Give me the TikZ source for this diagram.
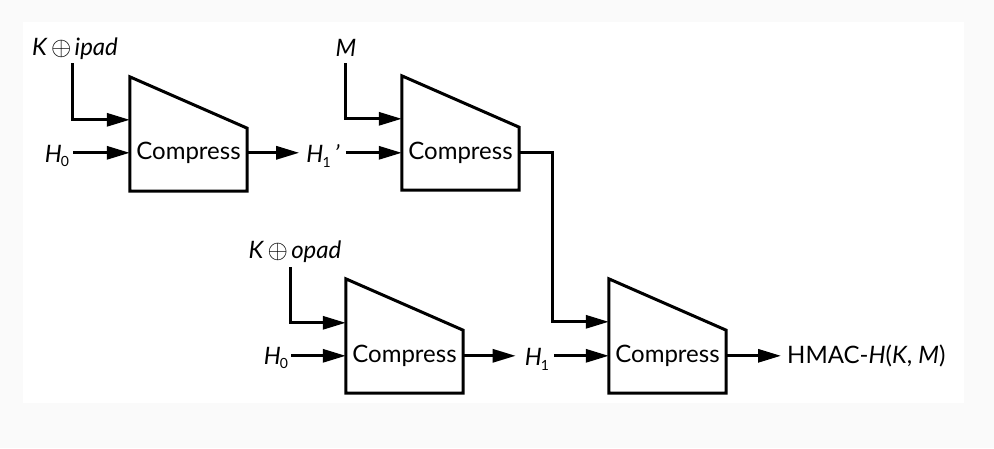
\documentclass[tikz,border=0pt]{standalone}
\usepackage{fontspec}
\setmainfont{Lato}
\usetikzlibrary{arrows.meta,calc}
\definecolor{bg}{HTML}{FAFAFA}
\newcommand{\Hs}[1]{\textit{H}\kern-0.04em\raisebox{-0.4ex}{\fontsize{14}{14}\selectfont #1}}
\newcommand{\xo}{\kern0.14em\raisebox{0.02ex}{\scalebox{1.05}{$\oplus$}}\kern0.14em}
\begin{document}
\begin{tikzpicture}[x=1pt,y=-1pt,
  cbox/.style={draw=none,minimum width=117pt,minimum height=114pt,inner sep=0pt},
  trap/.style={line width=3pt,line join=miter},
  ctext/.style={inner sep=0pt,font=\fontsize{24}{24}\selectfont},
  lbl/.style={inner sep=0pt,font=\fontsize{24}{24}\selectfont},
  arr/.style={line width=3pt,-{Triangle[length=23pt,width=13pt]}},
  wire/.style={line width=3pt}]
\fill[bg] (0,0) rectangle (994,448);
\fill[white] (23,22) rectangle (964,403);
% boxes
\node[cbox] (c1) at (188.5,134) {};
\node[cbox] (c2) at (460.5,133) {};
\node[cbox] (c3) at (404.5,336) {};
\node[cbox] (c4) at (667.5,336) {};
\foreach \c in {c1,c2,c3,c4}{
  \draw[trap] (\c.south west) -- (\c.north west) -- ([yshift=63pt]\c.south east) -- (\c.south east) -- cycle;
}
\node[ctext] (t1) at (188.5,153) {Compress};
\node[ctext] (t2) at (460.5,153) {Compress};
\node[ctext] (t3) at (404.5,356) {Compress};
\node[ctext] (t4) at (667.5,356) {Compress};
% input points
\coordinate (c1a) at ($(c1.north west)+(0,43)$);
\coordinate (c1b) at ($(c1.north west)+(0,76)$);
\coordinate (c2a) at ($(c2.north west)+(0,43)$);
\coordinate (c2b) at ($(c2.north west)+(0,77)$);
\coordinate (c3a) at ($(c3.north west)+(0,44)$);
\coordinate (c3b) at ($(c3.north west)+(0,77)$);
\coordinate (c4a) at ($(c4.north west)+(0,43)$);
\coordinate (c4b) at ($(c4.north west)+(0,77)$);
\coordinate (c1o) at ($(c1.north east)+(0,76)$);
\coordinate (c2o) at ($(c2.north east)+(0,77)$);
\coordinate (c3o) at ($(c3.north east)+(0,77)$);
\coordinate (c4o) at ($(c4.north east)+(0,77)$);
% labels
\node[lbl] (k1) at (75,49) {\textit{K}\xo\textit{ipad}};
\node[lbl] (m) at (346,48) {\textit{M}};
\node[lbl] (h0a) at (57,156) {\Hs{0}};
\node[lbl] (h1p) at (323,156) {\Hs{1}\,\textit{’}};
\node[lbl] (k2) at (295,252) {\textit{K}\xo\textit{opad}};
\node[lbl] (h0b) at (276,358) {\Hs{0}};
\node[lbl] (h1) at (537,359) {\Hs{1}};
\node[lbl,anchor=west] (out) at (787,356) {HMAC-\textit{H}(\textit{K}, \textit{M})};
\coordinate (k1s) at (72,63);
\coordinate (ms) at (345,63);
\coordinate (k2s) at (290,267);
% connectors
\draw[arr] (k1s) |- (c1a);
\draw[arr] ($(h0a.east|-c1b)+(4,0)$) -- (c1b);
\draw[arr] (c1o) -- ($(h1p.west|-c1o)+(-7,0)$);
\draw[arr] (ms) |- (c2a);
\draw[arr] ($(h1p.east|-c2b)+(6,0)$) -- (c2b);
\draw[arr] (c2o) -| (552,250) |- (c4a);
\draw[arr] (k2s) |- (c3a);
\draw[arr] ($(h0b.east|-c3b)+(3,0)$) -- (c3b);
\draw[arr] (c3o) -- ($(h1.west|-c3o)+(-9,0)$);
\draw[arr] ($(h1.east|-c4b)+(5,0)$) -- (c4b);
\draw[arr] (c4o) -- ($(out.west|-c4o)+(-6,0)$);
\end{tikzpicture}
\end{document}
